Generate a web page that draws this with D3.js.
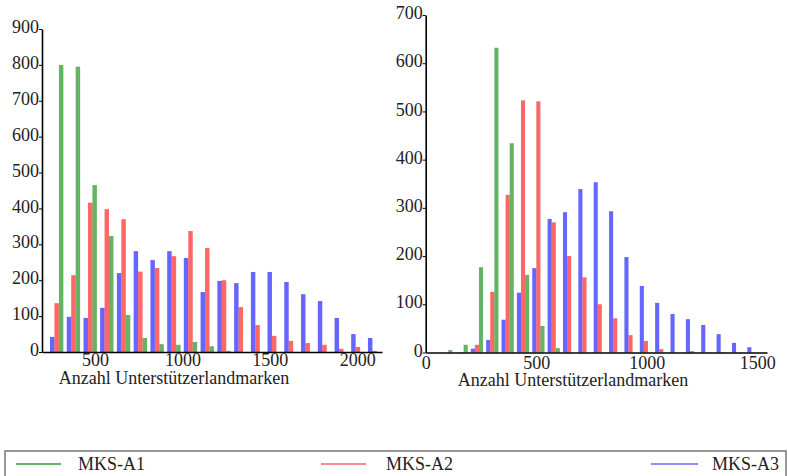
<!DOCTYPE html>
<html>
<head>
<meta charset="utf-8">
<script src="https://cdn.jsdelivr.net/npm/d3@7"></script>
<style>
  html, body { margin: 0; padding: 0; background: #fff; }
  svg { display: block; }
  text { fill: #222; }
</style>
</head>
<body>
<svg id="chart" width="788" height="476"></svg>
<script>
// ---------- data ----------
const seriesNames = ["MKS-A1", "MKS-A2", "MKS-A3"];

// left panel: bin left edges (x value) and counts per series
const leftBinEdges = [232, 328, 424, 519, 615, 711, 807, 903, 998, 1094, 1190, 1286, 1382, 1477, 1573, 1669, 1765, 1861, 1956, 2052];
const leftBinWidth = 95.8;
const leftA1 = [800, 795, 465, 323, 103, 39, 22, 20, 28, 16, 3, 0, 0, 0, 0, 0, 0, 0, 0, 0];
const leftA2 = [136, 214, 416, 398, 370, 224, 234, 267, 337, 290, 200, 125, 75, 45, 31, 25, 20, 9, 14, 3];
const leftA3 = [42, 98, 95, 123, 220, 281, 256, 281, 262, 167, 198, 192, 223, 223, 195, 161, 142, 95, 50, 39];
const leftXTicks = [500, 1000, 1500, 2000];
const leftYTicks = [0, 100, 200, 300, 400, 500, 600, 700, 800, 900];

// right panel
const rightBinEdges = [58, 127.5, 197, 266.5, 336, 405.5, 475, 544.5, 614, 683.5, 753, 822.5, 892, 961.5, 1031, 1100.5, 1170, 1239.5, 1309, 1378.5, 1448];
const rightBinWidth = 69.5;
const rightA1 = [5, 16, 177, 632, 434, 161, 55, 9, 0, 0, 0, 0, 0, 0, 0, 0, 0, 0, 0, 0, 0];
const rightA2 = [0, 1, 16, 126, 327, 523, 521, 270, 200, 156, 100, 71, 36, 24, 7, 0, 3, 0, 1, 0, 0];
const rightA3 = [0, 0, 8, 26, 68, 124, 175, 277, 291, 339, 353, 293, 198, 138, 103, 80, 69, 57, 38, 20, 11];
const rightXTicks = [0, 500, 1000, 1500];
const rightYTicks = [0, 100, 200, 300, 400, 500, 600, 700];

const xLabel = "Anzahl Unterstützerlandmarken";

// ---------- drawing ----------
const SERIF = '"Liberation Serif", "Times New Roman", Times, serif';
const svg = d3.select("#chart").attr("font-family", SERIF);
const colors = { "MKS-A1": "green", "MKS-A2": "red", "MKS-A3": "blue" };
const FONT = 18;

function panel(cfg) {
  const x = d3.scaleLinear().domain(cfg.xDomain).range(cfg.xRange);
  const y = d3.scaleLinear().domain(cfg.yDomain).range(cfg.yRange);
  const g = svg.append("g");

  // order of bars inside a bin: A3 (blue), A2 (red), A1 (green)
  const order = [
    { name: "MKS-A3", vals: cfg.a3 },
    { name: "MKS-A2", vals: cfg.a2 },
    { name: "MKS-A1", vals: cfg.a1 }
  ];
  const bw = cfg.binWidth * 0.8 / 3;
  order.forEach((s, j) => {
    g.append("g").selectAll("rect")
      .data(cfg.edges.map((e, i) => ({ e, v: s.vals[i] })).filter(d => d.v > 0))
      .join("rect")
      .attr("x", d => x(d.e + cfg.binWidth * 0.1 + j * bw))
      .attr("width", d => x(d.e + cfg.binWidth * 0.1 + (j + 1) * bw) - x(d.e + cfg.binWidth * 0.1 + j * bw))
      .attr("y", d => y(d.v))
      .attr("height", d => y(0) - y(d.v))
      .attr("fill", colors[s.name])
      .attr("fill-opacity", 0.6);
  });

  // y axis
  const ya = g.append("g")
    .attr("transform", `translate(${cfg.xRange[0]},0)`)
    .call(d3.axisLeft(y).tickValues(cfg.yTicks).tickSize(3).tickSizeOuter(0).tickPadding(0).tickFormat(d3.format("d")))
    .attr("font-family", SERIF).attr("font-size", FONT);
  ya.selectAll("text").attr("dy", "0.2em").attr("fill", "#222");
  ya.select(".domain").attr("stroke", "#000").attr("stroke-width", 1.6);
  ya.selectAll(".tick line").attr("stroke", "#000");

  // x axis
  const xa = g.append("g")
    .attr("transform", `translate(0,${cfg.yRange[0]})`)
    .call(d3.axisBottom(x).tickValues(cfg.xTicks).tickSize(0).tickSizeOuter(0).tickPadding(cfg.xPad).tickFormat(d3.format("d")))
    .attr("font-family", SERIF).attr("font-size", FONT);
  xa.selectAll("text").attr("fill", "#222");
  xa.select(".domain").attr("stroke", "#000").attr("stroke-width", 1.6);

  g.append("text")
    .attr("x", cfg.titleX)
    .attr("y", cfg.titleY)
    .attr("text-anchor", "middle")
    .attr("font-size", FONT)
    .text(xLabel);
}

panel({
  xDomain: [196, 2142], xRange: [42, 382],
  yDomain: [0, 900], yRange: [352, 29],
  edges: leftBinEdges, binWidth: leftBinWidth,
  a1: leftA1, a2: leftA2, a3: leftA3,
  xTicks: leftXTicks, yTicks: leftYTicks,
  xPad: 1.5, titleX: 174, titleY: 384
});

panel({
  xDomain: [0, 1544], xRange: [425.7, 767],
  yDomain: [0, 700], yRange: [352.5, 15],
  edges: rightBinEdges, binWidth: rightBinWidth,
  a1: rightA1, a2: rightA2, a3: rightA3,
  xTicks: rightXTicks, yTicks: rightYTicks,
  xPad: 4, titleX: 573, titleY: 386
});

// legend
const lg = svg.append("g");
lg.append("rect")
  .attr("x", 5).attr("y", 451).attr("width", 781).attr("height", 40)
  .attr("fill", "#fff").attr("stroke", "#777").attr("stroke-width", 1.5);
const legendPos = [
  { name: "MKS-A1", x1: 16, x2: 61, tx: 78 },
  { name: "MKS-A2", x1: 321, x2: 366, tx: 386 },
  { name: "MKS-A3", x1: 651, x2: 698, tx: 712 }
];
legendPos.forEach(p => {
  lg.append("line")
    .attr("x1", p.x1).attr("x2", p.x2).attr("y1", 464).attr("y2", 464)
    .attr("stroke", colors[p.name]).attr("stroke-opacity", p.name === "MKS-A1" ? 0.8 : 0.6).attr("stroke-width", 1.5);
  lg.append("text")
    .attr("x", p.tx).attr("y", 470)
    .attr("font-size", FONT)
    .text(p.name);
});
</script>
</body>
</html>
